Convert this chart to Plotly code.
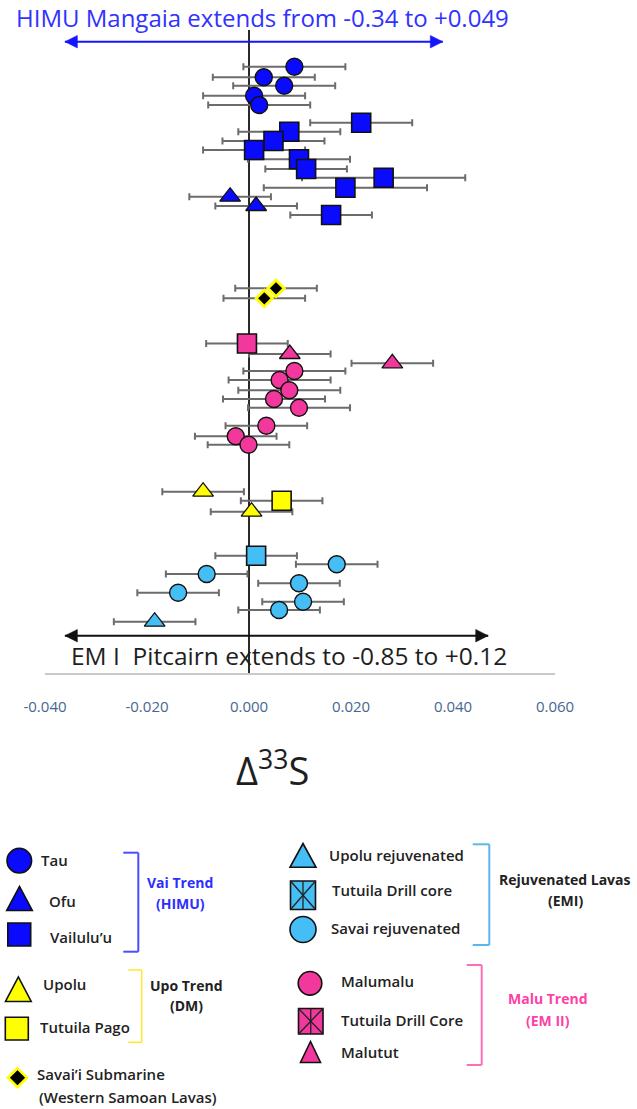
import plotly.graph_objects as go

# ---------------------------------------------------------------
# Δ33S (‰) of Samoan lavas, with ± uncertainties and a stacking row
# (rows run from the top of the panel downwards, one group per band)
# ---------------------------------------------------------------
tau_d33s = [0.0089, 0.0029, 0.0069, 0.0010, 0.0020]
tau_err = [0.010, 0.010, 0.010, 0.010, 0.010]
tau_row = [6.67, 7.73, 8.57, 9.57, 10.50]

vailuluu_d33s = [0.0220, 0.0079, 0.0048, 0.0010, 0.0098, 0.0112, 0.0264, 0.0189, 0.0161]
vailuluu_err = [0.010, 0.010, 0.010, 0.010, 0.010, 0.008, 0.016, 0.016, 0.008]
vailuluu_row = [12.27, 13.17, 14.10, 15.00, 15.93, 16.90, 17.77, 18.77, 21.50]

ofu_d33s = [-0.0037, 0.0014]
ofu_err = [0.008, 0.008]
ofu_row = [19.67, 20.60]

submarine_d33s = [0.0053, 0.0030]
submarine_err = [0.008, 0.008]
submarine_row = [28.83, 29.83]

drill_pink_d33s = [-0.0004]
drill_pink_err = [0.008]
drill_pink_row = [34.35]

malutut_d33s = [0.0080, 0.0281]
malutut_err = [0.008, 0.008]
malutut_row = [35.40, 36.33]

malumalu_d33s = [0.0089, 0.0060, 0.0079, 0.0049, 0.0098, 0.0034, -0.0026, -0.0001]
malumalu_err = [0.010, 0.010, 0.010, 0.010, 0.010, 0.008, 0.008, 0.008]
malumalu_row = [37.10, 38.00, 39.03, 39.90, 40.77, 42.57, 43.63, 44.47]

upolu_d33s = [-0.0090, 0.0005]
upolu_err = [0.008, 0.008]
upolu_row = [49.17, 51.17]

pago_d33s = [0.0064]
pago_err = [0.008]
pago_row = [50.07]

drill_cyan_d33s = [0.0014]
drill_cyan_err = [0.008]
drill_cyan_row = [55.57]

savai_rej_d33s = [0.0172, -0.0083, 0.0098, -0.0139, 0.0106, 0.0059]
savai_rej_err = [0.008, 0.008, 0.008, 0.008, 0.008, 0.008]
savai_rej_row = [56.43, 57.40, 58.33, 59.27, 60.17, 61.00]

upolu_rej_d33s = [-0.0185]
upolu_rej_err = [0.008]
upolu_rej_row = [62.17]

# x-axis ticks
tick_vals = [-0.04, -0.02, 0.0, 0.02, 0.04, 0.06]
tick_text = ["-0.040", "-0.020", "0.000", "0.020", "0.040", "0.060"]

# span of the two end-member arrows drawn across the panel (Δ33S units)
himu_arrow = [-0.0361, 0.0380]
em1_arrow = [-0.0361, 0.0469]
himu_arrow_row = 4.17
em1_arrow_row = 63.57

# ---------------------------------------------------------------
BLUE = "#0a0aff"
PINK = "#f2389c"
CYAN = "#45bdf5"
YELLOW = "#ffff00"
EDGE = "#111111"
ERRC = "#6c6c6c"
FONT = "Open Sans"

W, H = 637, 1109
ML, MR, MT, MB = 45, 82, 0, 436
PW = W - ML - MR
PH = H - MT - MB
XR = (-0.04, 0.06)
YR = (67.3, 0.0)

groups = [
    # name, x, err, row, symbol, size, fill, edge colour, edge width
    ("Tau", tau_d33s, tau_err, tau_row, "circle", 17, BLUE, EDGE, 1.4),
    ("Vailulu’u", vailuluu_d33s, vailuluu_err, vailuluu_row, "square", 19, BLUE, EDGE, 1.6),
    ("Ofu", ofu_d33s, ofu_err, ofu_row, "triangle-up", 18, BLUE, EDGE, 1.3),
    ("Savai’i Submarine", submarine_d33s, submarine_err, submarine_row, "diamond", 12.5, "#000000", YELLOW, 2.8),
    ("Tutuila Drill Core", drill_pink_d33s, drill_pink_err, drill_pink_row, "square", 19, PINK, EDGE, 1.6),
    ("Malutut", malutut_d33s, malutut_err, malutut_row, "triangle-up", 18, PINK, EDGE, 1.3),
    ("Malumalu", malumalu_d33s, malumalu_err, malumalu_row, "circle", 17, PINK, EDGE, 1.4),
    ("Upolu", upolu_d33s, upolu_err, upolu_row, "triangle-up", 18, YELLOW, EDGE, 1.3),
    ("Tutuila Pago", pago_d33s, pago_err, pago_row, "square", 19, YELLOW, EDGE, 1.6),
    ("Tutuila Drill core", drill_cyan_d33s, drill_cyan_err, drill_cyan_row, "square", 19, CYAN, EDGE, 1.6),
    ("Savai rejuvenated", savai_rej_d33s, savai_rej_err, savai_rej_row, "circle", 17, CYAN, EDGE, 1.4),
    ("Upolu rejuvenated", upolu_rej_d33s, upolu_rej_err, upolu_rej_row, "triangle-up", 18, CYAN, EDGE, 1.3),
]

fig = go.Figure()

# error bars first so every marker sits on top of them
for name, xs, errs, rows, *_ in groups:
    fig.add_trace(go.Scatter(
        x=xs, y=rows, mode="markers", showlegend=False, hoverinfo="skip",
        marker=dict(size=1, opacity=0),
        error_x=dict(type="data", array=errs, visible=True,
                     color=ERRC, thickness=2, width=3.5),
    ))

for name, xs, errs, rows, sym, size, fill, edge, lw in groups:
    fig.add_trace(go.Scatter(
        x=xs, y=rows, mode="markers", name=name, showlegend=False,
        marker=dict(symbol=sym, size=size, color=fill,
                    line=dict(color=edge, width=lw)),
    ))

# zero reference line
fig.add_shape(type="line", xref="x", yref="y", x0=0, x1=0, y0=3.0, y1=67.3,
              line=dict(color="#2a2a2a", width=2), layer="below")


# helpers for page-pixel placement (key, labels, arrowheads)
def px(xp):
    return (xp - ML) / PW


def py(yp):
    return (MT + PH - yp) / PH


def data_to_px(xv):
    return ML + (xv - XR[0]) / (XR[1] - XR[0]) * PW


def row_to_px(rv):
    return MT + (rv - YR[1]) / (YR[0] - YR[1]) * PH


def poly(pts, fill, edge=EDGE, width=1.6):
    path = "M " + " L ".join(f"{px(a):.5f},{py(b):.5f}" for a, b in pts) + " Z"
    fig.add_shape(type="path", xref="paper", yref="paper", path=path,
                  fillcolor=fill, line=dict(color=edge, width=width))


def arrow(xr, row, color):
    fig.add_shape(type="line", xref="x", yref="y", x0=xr[0], x1=xr[1],
                  y0=row, y1=row, line=dict(color=color, width=2))
    yc = row_to_px(row)
    xl, xr_ = data_to_px(xr[0]), data_to_px(xr[1])
    head_len, head_half = 12.5, 6.3
    poly([(xl, yc), (xl + head_len, yc - head_half), (xl + head_len, yc + head_half)],
         color, edge=color, width=0.5)
    poly([(xr_, yc), (xr_ - head_len, yc - head_half), (xr_ - head_len, yc + head_half)],
         color, edge=color, width=0.5)


arrow(himu_arrow, himu_arrow_row, "#1414ff")
arrow(em1_arrow, em1_arrow_row, "#111111")


def text(s, x, y, size=15, color="#222222", anchor="left", weight=600):
    fig.add_annotation(
        text=s, x=px(x), y=py(y), xref="paper", yref="paper",
        xanchor=anchor, yanchor="middle", showarrow=False,
        font=dict(family=FONT, size=size, color=color, weight=weight),
    )


text("HIMU Mangaia extends from -0.34 to +0.049", 262, 17, size=24,
     color="#3232ff", anchor="center", weight=400)
text("EM I  Pitcairn extends to -0.85 to +0.12", 289, 655, size=24.5,
     color="#1e1e1e", anchor="center", weight=400)
text("Δ<sup>33</sup>S", 272, 768, size=38, color="#1e1e1e",
     anchor="center", weight=400)


def circle(cx, cy, r, fill):
    fig.add_shape(type="circle", xref="paper", yref="paper",
                  x0=px(cx - r), x1=px(cx + r), y0=py(cy + r), y1=py(cy - r),
                  fillcolor=fill, line=dict(color=EDGE, width=1.6))


def rect(x0, x1, y0, y1, fill, edge=EDGE):
    fig.add_shape(type="rect", xref="paper", yref="paper",
                  x0=px(x0), x1=px(x1), y0=py(y1), y1=py(y0),
                  fillcolor=fill, line=dict(color=edge, width=1.6))


def tri(x0, x1, y0, y1, fill):
    poly([(x0, y1), (x1, y1), ((x0 + x1) / 2, y0)], fill)


def seg(x0, y0, x1, y1, color, width=1.5):
    fig.add_shape(type="line", xref="paper", yref="paper",
                  x0=px(x0), x1=px(x1), y0=py(y0), y1=py(y1),
                  line=dict(color=color, width=width))


def crossed(x0, x1, y0, y1, fill):
    rect(x0, x1, y0, y1, fill)
    seg(x0, y0, x1, y1, "#222222", 1.3)
    seg(x0, y1, x1, y0, "#222222", 1.3)
    seg((x0 + x1) / 2, y0, (x0 + x1) / 2, y1, "#222222", 1.3)


def bracket(x, y0, y1, xl, color, width=2):
    seg(xl, y0, x, y0, color, width)
    seg(x, y0, x, y1, color, width)
    seg(x, y1, xl, y1, color, width)


# key: left column
circle(19.3, 860.7, 12.3, BLUE)
text("Tau", 39, 860)
tri(6.7, 32.3, 886.5, 910.5, BLUE)
text("Ofu", 46.7, 900.7)
rect(7.8, 30.7, 923.0, 946.0, BLUE)
text("Vailulu’u", 48.3, 936.7)
bracket(138.3, 852.7, 951.7, 123.3, "#4c4cff")
text("Vai Trend", 180, 882.7, size=14, color="#2e2eff", anchor="center", weight=700)
text("(HIMU)", 180, 903.3, size=14, color="#2e2eff", anchor="center", weight=700)

tri(5.5, 31.2, 977.0, 1001.5, YELLOW)
text("Upolu", 40.7, 984)
rect(5.3, 28.3, 1017.3, 1040.0, YELLOW)
text("Tutuila Pago", 38.3, 1026.7)
bracket(141.7, 970.0, 1042.3, 128.3, "#ffe92a", 1.5)
text("Upo Trend", 186.7, 985, size=14, anchor="center", weight=700)
text("(DM)", 186.7, 1005, size=14, anchor="center", weight=700)

poly([(17.5, 1068.3), (27.0, 1077.7), (17.5, 1087.1), (8.0, 1077.7)],
     "#000000", edge=YELLOW, width=2.6)
text("Savai’i Submarine", 35, 1074.3)
text("(Western Samoan Lavas)", 36.7, 1096.7)

# key: right column
tri(290.0, 316.0, 843.5, 867.3, CYAN)
text("Upolu rejuvenated", 326.7, 855)
crossed(290.5, 315.5, 881.0, 909.5, CYAN)
text("Tutuila Drill core", 330, 890)
circle(303.0, 929.5, 13.0, CYAN)
text("Savai rejuvenated", 329.3, 927.7)
bracket(489.3, 844.3, 945.0, 472.7, "#5ab6ee")
text("Rejuvenated Lavas", 565, 879.3, size=14, anchor="center", weight=700)
text("(EMI)", 565, 900, size=14, anchor="center", weight=700)

circle(310.0, 983.3, 11.8, PINK)
text("Malumalu", 339.3, 980.7)
crossed(298.5, 323.0, 1008.5, 1034.0, PINK)
text("Tutuila Drill Core", 339.3, 1020)
tri(300.5, 320.5, 1041.5, 1062.5, PINK)
text("Malutut", 339.3, 1051.7)
bracket(481.7, 965.0, 1065.0, 466.7, "#ff6eb4")
text("Malu Trend", 548.3, 998.3, size=14, color="#ff3fa6", anchor="center", weight=700)
text("(EM II)", 548.3, 1020, size=14, color="#ff3fa6", anchor="center", weight=700)

fig.update_layout(
    width=W, height=H,
    margin=dict(l=ML, r=MR, t=MT, b=MB, pad=0),
    paper_bgcolor="white", plot_bgcolor="white",
    font=dict(family=FONT),
    showlegend=False,
    xaxis=dict(
        range=list(XR), tickvals=tick_vals, ticktext=tick_text,
        showgrid=False, zeroline=False, showline=True,
        linecolor="#c9c9c9", linewidth=2, ticks="",
        ticklabelstandoff=19,
        tickfont=dict(family=FONT, size=15, color="#46668f"),
        fixedrange=True,
    ),
    yaxis=dict(range=list(YR), visible=False, fixedrange=True),
)

fig.write_html("out.html", config={"displayModeBar": False})
